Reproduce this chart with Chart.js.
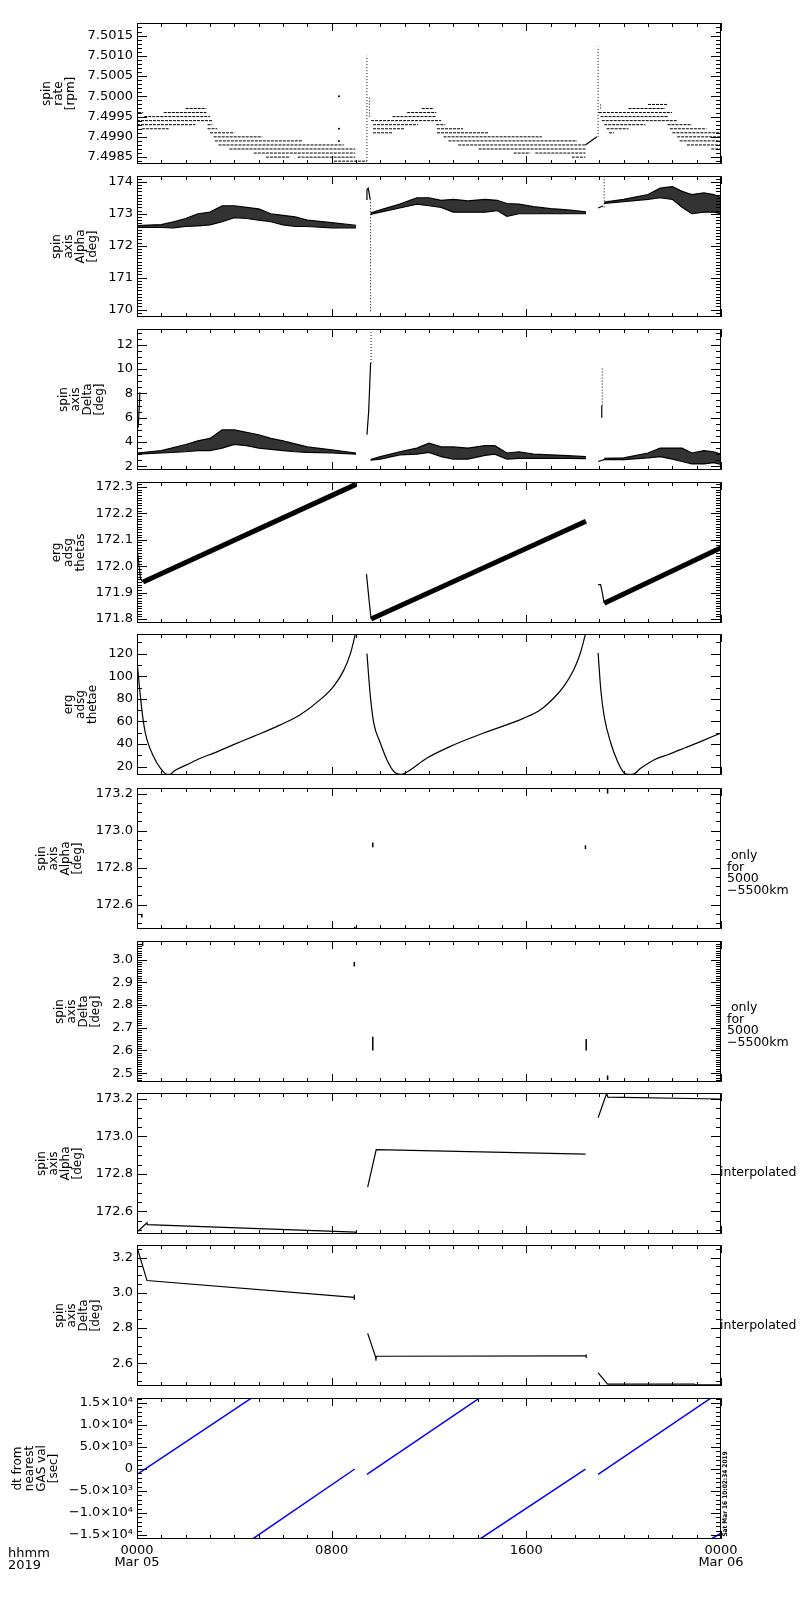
<!DOCTYPE html>
<html>
<head>
<meta charset="utf-8">
<script src="https://cdn.jsdelivr.net/npm/chart.js@4.4.1/dist/chart.umd.min.js"></script>
<style>
  body { margin: 0; background: #fff; }
  #wrap { position: relative; width: 800px; height: 1600px; overflow: hidden; }
  #wrap canvas { position: absolute; left: 0; }
  .note { position: absolute; font-family: "DejaVu Sans", sans-serif; font-size: 12.5px; line-height: 11.5px; color: #000; white-space: pre; }
  .stamp { position: absolute; font-family: "DejaVu Sans Condensed", "DejaVu Sans", sans-serif; font-size: 6.5px; font-weight: bold; white-space: pre; transform: rotate(-90deg); transform-origin: center; }
</style>
</head>
<body>
<div id="wrap"></div>
<script>
// ---- time axis (hours since 0000 Mar 05) ----
const xTickHours = [0, 8, 16, 24];
const xTickText = [['0000', 'Mar 05'], ['0800'], ['1600'], ['0000', 'Mar 06']];

// ---- panel 1: spin rate [rpm], quantised levels ----
const rateTicks = [7.4985, 7.4990, 7.4995, 7.5000, 7.5005, 7.5010, 7.5015];
const rateLevel = [7.4997, 7.4996, 7.4996, 7.4995, 7.4994, 7.4993, 7.4993, 7.4992, 7.4992, 7.4991, 7.4990, 7.4989, 7.4988, 7.4987, 7.4986, 7.4985, 7.4985, 7.4984,
  7.4997, 7.4996, 7.4995, 7.4994, 7.4993, 7.4993, 7.4992, 7.4992, 7.4991, 7.4991, 7.4990, 7.4989, 7.4988, 7.4987, 7.4986, 7.4986, 7.4985,
  7.4998, 7.4997, 7.4996, 7.4995, 7.4994, 7.4993, 7.4993, 7.4992, 7.4992, 7.4991, 7.4991, 7.4990, 7.4989, 7.4988, 7.4987];
const rateFrom = [2.0, 0.05, 1.1, 0.3, 0.0, 0.0, 2.9, 0.2, 2.9, 3.0, 3.15, 3.2, 3.35, 3.8, 4.8, 5.3, 6.6, 8.1,
  11.7, 11.1, 10.5, 9.62, 9.7, 12.3, 9.7, 12.33, 9.7, 12.33, 12.6, 12.8, 13.2, 14.04, 15.48, 16.37, 17.87,
  21.0, 20.2, 18.98, 19.05, 19.1, 19.2, 21.8, 19.3, 21.9, 19.4, 22.0, 22.2, 22.3, 22.6, 23.6];
const rateTo = [2.85, 0.25, 2.85, 3.0, 3.1, 2.4, 3.1, 1.3, 3.3, 4.0, 5.15, 6.8, 8.5, 8.97, 8.97, 6.3, 8.97, 9.45,
  12.2, 12.3, 12.3, 12.5, 11.55, 12.67, 11.0, 13.4, 10.5, 14.45, 16.64, 18.08, 18.43, 18.43, 16.16, 18.43, 18.43,
  21.8, 21.7, 21.99, 21.85, 22.2, 20.9, 22.8, 20.2, 23.4, 19.6, 24, 24, 24, 24, 24];
const rateSpikeT = [9.45, 9.55, 18.95, 19.05];
const rateSpikeLo = [7.4984, 7.4995, 7.4990, 7.4997];
const rateSpikeHi = [7.5010, 7.5000, 7.50123, 7.4998];
const rateLinkT = [18.43, 18.9];
const rateLinkV = [7.4988, 7.4990];
const rateDotT = [8.3, 8.3, 8.3];
const rateDotV = [7.5000, 7.4992, 7.4989];

// ---- panel 2: spin axis Alpha [deg] ----
const alphaTicks = [170, 171, 172, 173, 174];
const alphaT1 = [0, 1, 1.5, 2, 2.5, 3, 3.5, 4, 4.5, 5, 5.5, 6, 6.5, 7, 8, 9];
const alphaHi1 = [172.63, 172.66, 172.75, 172.85, 173.0, 173.05, 173.25, 173.25, 173.2, 173.15, 173.0, 172.95, 172.9, 172.8, 172.72, 172.64];
const alphaLo1 = [172.57, 172.57, 172.56, 172.6, 172.62, 172.65, 172.75, 172.88, 172.85, 172.8, 172.75, 172.65, 172.6, 172.6, 172.56, 172.56];
const alphaT2 = [9.6, 10, 10.8, 11.5, 12, 12.5, 13, 13.6, 14.3, 14.8, 15.2, 15.7, 16.3, 17, 17.7, 18.45];
const alphaHi2 = [173.02, 173.12, 173.3, 173.5, 173.5, 173.42, 173.45, 173.4, 173.45, 173.42, 173.32, 173.3, 173.22, 173.16, 173.12, 173.06];
const alphaLo2 = [172.98, 173.05, 173.18, 173.3, 173.25, 173.2, 173.05, 173.05, 173.05, 173.1, 172.92, 173.0, 173.0, 173.0, 173.0, 173.0];
const alphaT3 = [19.2, 20, 21, 21.5, 22, 22.4, 22.8, 23.3, 23.7, 24];
const alphaHi3 = [173.36, 173.45, 173.6, 173.8, 173.85, 173.7, 173.6, 173.65, 173.6, 173.5];
const alphaLo3 = [173.32, 173.38, 173.45, 173.5, 173.45, 173.2, 173.0, 173.05, 173.05, 173.0];
const alphaHookT = [9.42, 9.45, 9.5, 9.55, 9.58];
const alphaHookV = [173.45, 173.75, 173.8, 173.6, 173.45];
const alphaStubT = [18.95, 19.15];
const alphaStubV = [173.18, 173.24];
const alphaVertT = [9.6, 19.2];
const alphaVertLo = [169.95, 173.2];
const alphaVertHi = [173.45, 174.15];

// ---- panel 3: spin axis Delta [deg] ----
const deltaTicks = [2, 4, 6, 8, 10, 12];
const deltaT1 = [0, 1, 2, 2.5, 3, 3.5, 4, 4.5, 5, 5.5, 6, 6.5, 7, 8, 9];
const deltaHi1 = [3.1, 3.3, 3.8, 4.1, 4.3, 5.0, 5.0, 4.8, 4.6, 4.3, 4.1, 3.85, 3.6, 3.35, 3.1];
const deltaLo1 = [3.0, 3.1, 3.2, 3.3, 3.3, 3.5, 3.8, 3.7, 3.5, 3.4, 3.3, 3.2, 3.15, 3.1, 3.0];
const deltaT2 = [9.6, 10, 10.8, 11.5, 12, 12.5, 13, 13.6, 14.3, 14.7, 15.2, 15.7, 16.3, 17, 17.7, 18.45];
const deltaHi2 = [2.55, 2.8, 3.2, 3.5, 3.9, 3.6, 3.6, 3.5, 3.7, 3.7, 3.1, 3.2, 3.0, 2.95, 2.88, 2.8];
const deltaLo2 = [2.5, 2.6, 2.95, 3.0, 3.15, 2.8, 2.6, 2.6, 2.9, 3.0, 2.6, 2.65, 2.65, 2.65, 2.65, 2.63];
const deltaT3 = [19.2, 20, 21, 21.5, 22, 22.4, 22.8, 23.3, 23.7, 24];
const deltaHi3 = [2.65, 2.7, 3.1, 3.5, 3.5, 3.5, 3.1, 3.3, 3.2, 3.0];
const deltaLo3 = [2.55, 2.55, 2.7, 2.8, 2.6, 2.4, 2.2, 2.2, 2.3, 2.15];
const deltaEdgeT = [0.05, 0.12];
const deltaEdgeV = [5.2, 8.1];
const deltaJumpT = [9.45, 9.52, 9.57, 9.6];
const deltaJumpV = [4.6, 6.5, 9.0, 10.5];
const deltaStubT = [18.95, 19.2];
const deltaStubV = [2.4, 2.55];
const deltaVertT = [9.62, 19.1, 19.12];
const deltaVertLo = [10.5, 6.0, 7.0];
const deltaVertHi = [13.3, 7.0, 10.1];

// ---- panel 4: erg adsg thetas ----
const thetasTicks = [171.8, 171.9, 172.0, 172.1, 172.2, 172.3];
const thetasBandT = [[0.25, 9.0], [9.62, 18.45], [19.2, 24]];
const thetasBandV = [[171.94, 172.31], [171.8, 172.17], [171.86, 172.07]];
const thetasDropT = [[0, 0.15, 0.25], [9.43, 9.55, 9.62], [18.95, 19.05, 19.1, 19.2]];
const thetasDropV = [[172.07, 171.95, 171.94], [171.97, 171.86, 171.8], [171.93, 171.93, 171.91, 171.86]];

// ---- panel 5: erg adsg thetae ----
const thetaeTicks = [20, 40, 60, 80, 100, 120];
const thetaeT1 = [0, 0.14, 0.27, 0.41, 0.68, 0.96, 1.23, 1.37, 1.51, 2.06, 2.6, 3.15, 3.97, 4.79, 5.89, 6.71, 7.53, 8.08, 8.49, 8.77, 8.97];
const thetaeV1 = [114, 82, 58.6, 43.9, 29.1, 18.8, 13.2, 13.2, 16, 21.8, 27.5, 32, 39.5, 46.8, 57, 66, 79.3, 91.1, 105, 120, 137];
const thetaeT2 = [9.45, 9.59, 9.73, 10.0, 10.27, 10.55, 10.82, 10.96, 11.92, 12.88, 14.25, 15.9, 16.58, 17.13, 17.54, 17.95, 18.22, 18.43];
const thetaeV2 = [120, 82.2, 58.6, 41, 26.2, 15.9, 13.2, 13.8, 27.7, 38, 49.8, 63, 70.4, 80.8, 91.1, 105.8, 120.6, 137.4];
const thetaeT3 = [18.95, 19.06, 19.2, 19.47, 19.75, 20.02, 20.16, 20.37, 20.71, 21.26, 21.81, 22.5, 23.18, 24];
const thetaeV3 = [120.6, 88.1, 64.5, 41, 24.7, 14.4, 13.2, 13.2, 18.8, 26.2, 30.6, 36.5, 42.4, 49.8];

// ---- panels 6/7: only for 5000-5500 km ----
const alphaOnlyTicks = [172.6, 172.8, 173.0, 173.2];
const alphaOnlyT = [0.2, 8.95, 9.69, 18.43, 19.34];
const alphaOnlyLo = [172.53, 172.47, 172.91, 172.9, 173.2];
const alphaOnlyHi = [172.55, 172.48, 172.935, 172.92, 173.235];
const deltaOnlyTicks = [2.5, 2.6, 2.7, 2.8, 2.9, 3.0];
const deltaOnlyT = [0.23, 8.93, 9.69, 18.46, 19.34];
const deltaOnlyLo = [3.06, 2.97, 2.60, 2.60, 2.47];
const deltaOnlyHi = [3.08, 2.99, 2.66, 2.65, 2.49];

// ---- panels 8/9: interpolated ----
const alphaIntTicks = [172.6, 172.8, 173.0, 173.2];
const alphaIntT = [[0, 0.41, 0.42, 9.0], [9.48, 9.83, 18.43], [18.95, 19.3, 19.35, 24]];
const alphaIntV = [[172.49, 172.54, 172.53, 172.49], [172.73, 172.93, 172.906], [173.1, 173.23, 173.21, 173.2]];
const deltaIntTicks = [2.6, 2.8, 3.0, 3.2];
const deltaIntT = [[0, 0.41, 8.93], [9.48, 9.82, 9.86, 18.46], [18.95, 19.34, 22.9, 22.95, 24]];
const deltaIntV = [[3.26, 3.07, 2.975], [2.77, 2.63, 2.64, 2.642], [2.545, 2.482, 2.482, 2.477, 2.477]];
const deltaIntMarkT = [8.93, 9.82, 18.46];
const deltaIntMarkLo = [2.96, 2.615, 2.63];
const deltaIntMarkHi = [2.99, 2.64, 2.65];

// ---- panel 10: dt from nearest GAS val [sec] ----
const dtTicks = [-15000, -10000, -5000, 0, 5000, 10000, 15000];
const dtTickText = ['\u22121.5\u00d710\u2074', '\u22121.0\u00d710\u2074', '\u22125.0\u00d710\u00b3', '0', '5.0\u00d710\u00b3', '1.0\u00d710\u2074', '1.5\u00d710\u2074'];
const dtStartT = [0, 4.75, 9.45, 14.1, 18.95, 23.6];
const dtStartV = [-1200, -15900, -1200, -15900, -1200, -15900];
const dtEndT = [4.7, 8.95, 14.07, 18.43, 23.58, 24];
const dtEndV = [16100, 0, 16100, 0, 16100, -14600];

Chart.defaults.font.family = '"DejaVu Sans", sans-serif';
Chart.defaults.color = '#000';

function seg(xs, ys, extra) {
  return Object.assign({
    data: xs.map((x, i) => ({ x: x, y: ys[i] })),
    showLine: true, pointRadius: 0, borderColor: '#000', borderWidth: 1.2, fill: false
  }, extra || {});
}
function band(xs, hi, lo) {
  return [
    seg(xs, hi, { fill: '+1', backgroundColor: 'rgba(0,0,0,0.8)' }),
    seg(xs, lo)
  ];
}
function verticals(ts, lo, hi, extra) {
  return ts.map((t, i) => seg([t, t], [lo[i], hi[i]], extra));
}

// IDL-like frame with inward ticks on all four sides
const idlAxes = {
  id: 'idlAxes',
  afterDatasetsDraw(chart, args, o) {
    const ctx = chart.ctx, a = chart.chartArea;
    const x = chart.scales.x, y = chart.scales.y;
    ctx.save();
    ctx.strokeStyle = '#000';
    ctx.lineWidth = 1;
    ctx.beginPath();
    ctx.rect(a.left + 0.5, a.top + 0.5, a.width - 1, a.height - 1);
    for (let h = 0; h <= 24; h++) {
      const px = Math.round(x.getPixelForValue(h)) + 0.5;
      const len = h % 8 === 0 ? 8 : 4;
      ctx.moveTo(px, a.bottom); ctx.lineTo(px, a.bottom - len);
      ctx.moveTo(px, a.top); ctx.lineTo(px, a.top + len);
    }
    const st = o.minor;
    for (let k = Math.ceil(y.min / st - 1e-6); k * st <= y.max + st * 1e-6; k++) {
      const v = k * st;
      const major = o.major.some(m => Math.abs(m - v) < st / 10);
      const py = Math.round(y.getPixelForValue(v)) + 0.5;
      const len = major ? 10 : 5;
      ctx.moveTo(a.left, py); ctx.lineTo(a.left + len, py);
      ctx.moveTo(a.right, py); ctx.lineTo(a.right - len, py);
    }
    ctx.stroke();
    ctx.restore();
  }
};

// ---- build panel datasets ----
const p1 = rateLevel.map((v, i) => seg([rateFrom[i], rateTo[i]], [v, v], { borderWidth: 1, borderDash: [3, 1] }))
  .concat(verticals(rateSpikeT, rateSpikeLo, rateSpikeHi, { borderWidth: 1, borderDash: [1, 2] }))
  .concat([seg(rateLinkT, rateLinkV),
    { data: rateDotT.map((t, i) => ({ x: t, y: rateDotV[i] })), pointRadius: 1, pointBorderWidth: 0, backgroundColor: '#000', showLine: false }]);

const p2 = band(alphaT1, alphaHi1, alphaLo1).concat(band(alphaT2, alphaHi2, alphaLo2), band(alphaT3, alphaHi3, alphaLo3),
  [seg(alphaHookT, alphaHookV), seg(alphaStubT, alphaStubV)],
  verticals(alphaVertT, alphaVertLo, alphaVertHi, { borderWidth: 1, borderDash: [1, 2] }));

const p3 = band(deltaT1, deltaHi1, deltaLo1).concat(band(deltaT2, deltaHi2, deltaLo2), band(deltaT3, deltaHi3, deltaLo3),
  [seg(deltaEdgeT, deltaEdgeV), seg(deltaJumpT, deltaJumpV), seg(deltaStubT, deltaStubV)],
  verticals(deltaVertT, deltaVertLo, deltaVertHi).map((d, i) => i === 1 ? d : Object.assign(d, { borderWidth: 1, borderDash: [1, 2] })));

const p4 = thetasBandT.map((t, i) => seg(t, thetasBandV[i], { borderWidth: 5 }))
  .concat(thetasDropT.map((t, i) => seg(t, thetasDropV[i])));

const p5 = [seg(thetaeT1, thetaeV1), seg(thetaeT2, thetaeV2), seg(thetaeT3, thetaeV3)]
  .map(d => Object.assign(d, { cubicInterpolationMode: 'monotone' }));

const p6 = verticals(alphaOnlyT, alphaOnlyLo, alphaOnlyHi, { borderWidth: 1.5 });
const p7 = verticals(deltaOnlyT, deltaOnlyLo, deltaOnlyHi, { borderWidth: 1.5 });
const p8 = alphaIntT.map((t, i) => seg(t, alphaIntV[i]));
const p9 = deltaIntT.map((t, i) => seg(t, deltaIntV[i])).concat(verticals(deltaIntMarkT, deltaIntMarkLo, deltaIntMarkHi));
const p10 = dtStartT.map((t, i) => seg([t, dtEndT[i]], [dtStartV[i], dtEndV[i]], { borderColor: '#0000ff', borderWidth: 1.5 }));

const panels = [
  { title: ['spin', 'rate', '[rpm]'], tx: 47, min: 7.49833, max: 7.50181, major: rateTicks, minor: 0.0001, fmt: v => v.toFixed(4), sets: p1 },
  { title: ['spin', 'axis', 'Alpha', '[deg]'], tx: 57, min: 169.77, max: 174.18, major: alphaTicks, minor: 0.1, fmt: v => v.toFixed(0), sets: p2 },
  { title: ['spin', 'axis', 'Delta', '[deg]'], tx: 64, min: 1.70, max: 13.3, major: deltaTicks, minor: 0.5, fmt: v => v.toFixed(0), sets: p3 },
  { title: ['erg', 'adsg', 'thetas'], tx: 57, min: 171.785, max: 172.319, major: thetasTicks, minor: 0.01, fmt: v => v.toFixed(1), sets: p4 },
  { title: ['erg', 'adsg', 'thetae'], tx: 69, min: 12.65, max: 137.4, major: thetaeTicks, minor: 10, fmt: v => v.toFixed(0), sets: p5 },
  { title: ['spin', 'axis', 'Alpha', '[deg]'], tx: 42, min: 172.468, max: 173.23, major: alphaOnlyTicks, minor: 0.05, fmt: v => v.toFixed(1), sets: p6 },
  { title: ['spin', 'axis', 'Delta', '[deg]'], tx: 60, min: 2.461, max: 3.082, major: deltaOnlyTicks, minor: 0.01, fmt: v => v.toFixed(1), sets: p7 },
  { title: ['spin', 'axis', 'Alpha', '[deg]'], tx: 42, min: 172.48, max: 173.232, major: alphaIntTicks, minor: 0.05, fmt: v => v.toFixed(1), sets: p8 },
  { title: ['spin', 'axis', 'Delta', '[deg]'], tx: 60, min: 2.471, max: 3.272, major: deltaIntTicks, minor: 0.05, fmt: v => v.toFixed(1), sets: p9 },
  { title: ['dt from', 'nearest', 'GAS val', '[sec]'], tx: 18, min: -15911, max: 16139, major: dtTicks, minor: 1000, fmt: (v, i) => dtTickText[i], sets: p10 }
];
const panelTop = [23, 176, 329, 482, 634, 788, 941, 1093, 1245, 1398];
const PLOT_H = 141, PAD = 6, XAXIS_H = 60;

const wrap = document.getElementById('wrap');
panels.forEach((p, i) => {
  const last = i === panels.length - 1;
  const cv = document.createElement('canvas');
  const h = PAD + PLOT_H + (last ? XAXIS_H : PAD);
  cv.width = 800; cv.height = h;
  cv.style.width = '800px'; cv.style.height = h + 'px';
  cv.style.top = (panelTop[i] - PAD) + 'px';
  wrap.appendChild(cv);

  new Chart(cv, {
    type: 'scatter',
    data: { datasets: p.sets },
    options: {
      responsive: false,
      animation: false,
      events: [],
      layout: { padding: { left: 0, right: 79, top: PAD, bottom: last ? 0 : PAD } },
      plugins: { legend: { display: false }, tooltip: { enabled: false }, idlAxes: { major: p.major, minor: p.minor } },
      scales: {
        x: {
          type: 'linear', min: 0, max: 24, display: last,
          grid: { display: false, drawTicks: false }, border: { display: false },
          ticks: { autoSkip: false, maxRotation: 0, padding: 6, font: { size: 13, lineHeight: 0.9 },
            callback: (v, k) => xTickText[k] },
          afterBuildTicks: s => { s.ticks = xTickHours.map(v => ({ value: v })); },
          afterFit: s => { s.height = last ? XAXIS_H : 0; s.paddingLeft = 0; s.paddingRight = 0; }
        },
        y: {
          type: 'linear', min: p.min, max: p.max,
          grid: { display: false, drawTicks: false }, border: { display: false },
          ticks: { autoSkip: false, padding: 4, font: { size: 13 }, callback: (v, k) => p.fmt(v, k) },
          title: { display: true, text: p.title, font: { size: 12, lineHeight: 1 }, padding: { top: p.tx - 6, bottom: 0 } },
          afterBuildTicks: s => { s.ticks = p.major.map(v => ({ value: v })); },
          afterFit: s => { s.width = 137; s.paddingTop = 0; s.paddingBottom = 0; }
        }
      }
    },
    plugins: [idlAxes]
  });
});

// side notes
function note(text, left, top, cls) {
  const d = document.createElement('div');
  d.className = cls || 'note';
  d.textContent = text;
  d.style.left = left + 'px';
  d.style.top = top + 'px';
  wrap.appendChild(d);
  return d;
}
note(' only\nfor\n5000\n\u22125500km', 727, 849);
note(' only\nfor\n5000\n\u22125500km', 727, 1001);
note('interpolated', 720, 1166);
note('interpolated', 720, 1319);
note('hhmm\n2019', 8, 1547).style.fontSize = '13px';
const s = note('Sat Mar 16 10:02:34 2019', 681, 1490, 'stamp');
s.style.width = '88px';
s.style.textAlign = 'center';
</script>
</body>
</html>
